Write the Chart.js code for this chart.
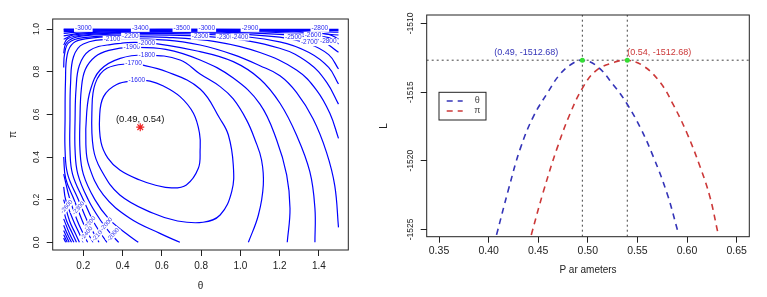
<!DOCTYPE html>
<html>
<head>
<meta charset="utf-8">
<script src="https://cdn.jsdelivr.net/npm/chart.js@4.4.1/dist/chart.umd.min.js"></script>
<style>
body { margin: 0; background: #fff; }
#left { position: absolute; left: 0; top: 0; width: 378px; height: 297px; }
#right { position: absolute; left: 378px; top: 0; width: 389px; height: 297px; }
</style>
</head>
<body>
<div id="left"><canvas id="contour"></canvas></div>
<div id="right"><canvas id="profile"></canvas></div>
<script>
// ---------- left panel: contours of the log-likelihood over (theta, pi) ----------
const thetaTicks = [0.2, 0.4, 0.6, 0.8, 1.0, 1.2, 1.4];
const piTicks = [0.0, 0.2, 0.4, 0.6, 0.8, 1.0];
const mle = [0.49, 0.54];

// contour lines, [theta, pi] pairs
const c1600 = [[0.473,0.759],[0.54,0.756],[0.608,0.733],[0.693,0.683],[0.761,0.605],[0.792,0.511],[0.795,0.433],[0.786,0.347],[0.725,0.269],[0.65,0.255],[0.56,0.27],[0.488,0.292],[0.386,0.339],[0.325,0.395],[0.29,0.47],[0.283,0.589],[0.303,0.683],[0.37,0.74],[0.473,0.759]];
const c1700 = [[0.456,0.841],[0.625,0.8],[0.795,0.719],[0.897,0.578],[0.939,0.503],[0.964,0.3625],[0.956,0.2375],[0.897,0.128],[0.81,0.094],[0.68,0.1],[0.556,0.136],[0.386,0.222],[0.29,0.34],[0.251,0.44],[0.244,0.62],[0.261,0.745],[0.32,0.816],[0.456,0.841]];
const c1800 = [[0.692,0],[0.59,0.042],[0.437,0.1125],[0.302,0.222],[0.228,0.36],[0.213,0.46],[0.217,0.605],[0.236,0.714],[0.286,0.808],[0.388,0.8625],[0.524,0.878],[0.693,0.855],[0.795,0.789],[0.897,0.73],[0.964,0.672],[1.032,0.573],[1.075,0.48],[1.108,0.386],[1.117,0.269],[1.092,0.128],[1.041,0]];
const c1900 = [[0.48,0],[0.42,0.04],[0.33,0.11],[0.259,0.2],[0.2,0.32],[0.183,0.433],[0.183,0.578],[0.19,0.72],[0.21,0.81],[0.26,0.87],[0.33,0.9],[0.447,0.914],[0.62,0.905],[0.795,0.855],[0.964,0.77],[1.1,0.648],[1.185,0.48],[1.236,0.316],[1.253,0.159],[1.239,0]];
const c2000 = [[0.38,0],[0.34,0.04],[0.29,0.1],[0.225,0.2],[0.172,0.32],[0.158,0.433],[0.158,0.578],[0.163,0.72],[0.18,0.83],[0.23,0.898],[0.33,0.926],[0.524,0.935],[0.795,0.894],[0.964,0.847],[1.1,0.766],[1.202,0.652],[1.286,0.503],[1.354,0.331],[1.38,0.159],[1.38,0]];
const c2100 = [[0.32,0],[0.29,0.04],[0.25,0.1],[0.2,0.2],[0.145,0.32],[0.132,0.433],[0.132,0.578],[0.135,0.745],[0.15,0.87],[0.2,0.93],[0.346,0.952],[0.625,0.948],[0.795,0.925],[0.964,0.88],[1.1,0.828],[1.202,0.781],[1.286,0.703],[1.371,0.578],[1.439,0.422],[1.481,0.266],[1.5,0.07]];
const c2200 = [[0.28,0],[0.255,0.04],[0.22,0.1],[0.175,0.2],[0.12,0.32],[0.107,0.433],[0.107,0.578],[0.109,0.75],[0.118,0.88],[0.15,0.935],[0.219,0.955],[0.371,0.964],[0.625,0.961],[0.88,0.94],[1.1,0.89],[1.286,0.808],[1.388,0.714],[1.456,0.605],[1.5,0.4875]];
// upper band (pi near 1)
const t2300 = [[0.1,0.82],[0.104,0.88],[0.125,0.935],[0.2,0.96],[0.5,0.973],[0.9,0.96],[1.2,0.91],[1.35,0.84],[1.44,0.75],[1.5,0.648]];
const t2400 = [[0.1,0.886],[0.11,0.93],[0.15,0.958],[0.25,0.972],[0.5,0.98],[0.9,0.972],[1.2,0.94],[1.35,0.89],[1.45,0.82],[1.5,0.742]];
const t2500 = [[0.1,0.925],[0.12,0.955],[0.2,0.972],[0.5,0.985],[0.9,0.98],[1.2,0.962],[1.35,0.93],[1.45,0.88],[1.5,0.8125]];
const t2600 = [[0.1,0.952],[0.15,0.972],[0.3,0.982],[0.6,0.988],[0.9,0.985],[1.2,0.975],[1.4,0.95],[1.5,0.891]];
const t2700 = [[0.1,0.968],[0.2,0.982],[0.6,0.991],[1.0,0.988],[1.3,0.978],[1.45,0.96],[1.5,0.93]];
const t2800 = [[0.1,0.98],[0.2,0.988],[0.6,0.994],[1.0,0.992],[1.3,0.986],[1.45,0.975],[1.5,0.953]];
const t2900 = [[0.1,0.988],[0.6,0.996],[1.2,0.994],[1.5,0.972]];
const t3000 = [[0.1,0.993],[0.6,0.998],[1.2,0.997],[1.5,0.985]];
const t3100 = [[0.1,0.997],[1.5,0.993]];
const t3200 = [[0.1,0.9995],[1.5,0.998]];
// lower-left corner
const b2300 = [[0.1,0.4],[0.11,0.3],[0.153,0.2],[0.195,0.1],[0.225,0.04],[0.25,0]];
const b2400 = [[0.1,0.32],[0.132,0.2],[0.17,0.1],[0.2,0.04],[0.222,0]];
const b2500 = [[0.1,0.26],[0.11,0.2],[0.15,0.1],[0.18,0.04],[0.2,0]];
const b2600 = [[0.1,0.2],[0.13,0.1],[0.16,0.04],[0.18,0]];
const b2700 = [[0.1,0.15],[0.115,0.1],[0.145,0.04],[0.165,0]];
const b2800 = [[0.1,0.11],[0.13,0.04],[0.152,0]];
const b2900 = [[0.1,0.08],[0.118,0.04],[0.14,0]];
const b3000 = [[0.1,0.055],[0.128,0]];
const b3100 = [[0.1,0.035],[0.118,0]];
const b3200 = [[0.1,0.02],[0.11,0]];

const contours = [c1600, c1700, c1800, c1900, c2000, c2100, c2200,
  t2300, t2400, t2500, t2600, t2700, t2800, t2900, t3000, t3100, t3200,
  b2300, b2400, b2500, b2600, b2700, b2800, b2900, b3000, b3100, b3200];

const contourLabels = [
  ['-1600', 0.473, 0.759], ['-1700', 0.456, 0.841], ['-1800', 0.524, 0.878],
  ['-1900', 0.447, 0.914], ['-2000', 0.524, 0.935], ['-2100', 0.346, 0.952],
  ['-2200', 0.44, 0.966], ['-2300', 0.795, 0.966], ['-2300', 0.922, 0.962],
  ['-2400', 0.998, 0.962], ['-2500', 1.27, 0.963], ['-2600', 1.37, 0.97],
  ['-2700', 1.351, 0.936], ['-2800', 1.448, 0.941],
  ['-3000', 0.2, 1.003], ['-3400', 0.49, 1.003], ['-3500', 0.702, 1.003],
  ['-3000', 0.829, 1.003], ['-2900', 1.049, 1.003], ['-2800', 1.405, 1.003]
];
const cornerLabels = [
  ['-2300', 0.175, 0.16], ['-2200', 0.232, 0.09], ['-2400', 0.217, 0.042],
  ['-2100', 0.276, 0.036], ['-2000', 0.318, 0.085], ['-2000', 0.352, 0.036],
  ['-2600', 0.115, 0.167]
];

// ---------- right panel: profile log-likelihoods ----------
const parTicks = [0.35, 0.40, 0.45, 0.50, 0.55, 0.60, 0.65];
const lTicks = [-1525, -1520, -1515, -1510];
const thetaX = [0.408, 0.420, 0.432, 0.445, 0.459, 0.472, 0.485, 0.4945, 0.509, 0.526, 0.539, 0.553, 0.566, 0.580, 0.591];
const thetaL = [-1525.4, -1522.1, -1519.1, -1516.8, -1515.1, -1513.7, -1512.9, -1512.68, -1513.1, -1514.5, -1515.8, -1517.6, -1519.7, -1522.4, -1525.2];
const piX = [0.443, 0.455, 0.469, 0.482, 0.4955, 0.509, 0.526, 0.5398, 0.556, 0.573, 0.586, 0.600, 0.613, 0.623, 0.631];
const piL = [-1525.4, -1522.3, -1519.1, -1516.6, -1514.6, -1513.4, -1512.85, -1512.68, -1513.1, -1514.3, -1515.9, -1518.0, -1520.4, -1522.6, -1525.2];
const thetaHat = 0.4945, piHat = 0.5398, lHat = -1512.68;

const xLim = [0.3376, 0.6628];
const yLim = [-1525.53, -1509.39];

Chart.defaults.font.family = "'Liberation Sans', Arial, sans-serif";
Chart.defaults.color = '#222';

// R-like frame, vertical y tick labels, text notes and an inset legend
const rLook = {
  id: 'rLook',
  afterDraw(chart, args, opts) {
    const {ctx, chartArea: a, scales} = chart;
    ctx.save();
    ctx.strokeStyle = '#222';
    ctx.lineWidth = 1;
    ctx.strokeRect(a.left, a.top, a.right - a.left, a.bottom - a.top);

    ctx.fillStyle = '#222';
    ctx.font = opts.yFont;
    ctx.textAlign = 'center';
    ctx.textBaseline = 'middle';
    scales.y.ticks.forEach(t => {
      ctx.save();
      ctx.translate(a.left - 16, scales.y.getPixelForValue(t.value));
      ctx.rotate(-Math.PI / 2);
      ctx.fillText(t.label, 0, 0);
      ctx.restore();
    });

    (opts.notes || []).forEach(n => {
      ctx.save();
      ctx.translate(scales.x.getPixelForValue(n.x) + (n.dx || 0), scales.y.getPixelForValue(n.y) + (n.dy || 0));
      if (n.rot) ctx.rotate(n.rot * Math.PI / 180);
      ctx.font = n.font;
      ctx.textAlign = n.align || 'center';
      ctx.textBaseline = 'middle';
      if (n.bg) {
        const w = ctx.measureText(n.text).width;
        const x0 = n.align === 'right' ? -w : n.align === 'left' ? 0 : -w / 2;
        ctx.fillStyle = '#fff';
        ctx.fillRect(x0 - 1, -3.5, w + 2, 7);
      }
      ctx.fillStyle = n.color;
      ctx.fillText(n.text, 0, 0);
      ctx.restore();
    });

    if (opts.legend) {
      const bx = a.left + 12.3, by = a.top + 77.3;
      ctx.fillStyle = '#fff';
      ctx.fillRect(bx, by, 47, 27.7);
      ctx.strokeStyle = '#222';
      ctx.lineWidth = 1;
      ctx.strokeRect(bx, by, 47, 27.7);
      ctx.font = '9px "Liberation Sans", Arial';
      ctx.textAlign = 'center';
      ctx.textBaseline = 'middle';
      chart.data.datasets.filter(d => d.label).forEach((d, i) => {
        const y = by + 8.7 + i * 10;
        ctx.strokeStyle = d.borderColor;
        ctx.lineWidth = d.borderWidth;
        ctx.setLineDash(d.borderDash);
        ctx.beginPath();
        ctx.moveTo(bx + 7.7, y);
        ctx.lineTo(bx + 23.7, y);
        ctx.stroke();
        ctx.setLineDash([]);
        ctx.fillStyle = '#444';
        ctx.fillText(d.label, bx + 38.3, y);
      });
    }
    ctx.restore();
  }
};

function axisCommon(ticks, fmt, size, pad, color) {
  return {
    type: 'linear',
    afterBuildTicks: s => { s.ticks = ticks.map(v => ({value: v})); },
    ticks: { callback: fmt, font: {size: size}, padding: pad, autoSkip: false, maxRotation: 0, color: color },
    grid: { drawOnChartArea: false, tickLength: 6, color: '#222' },
    border: { display: false }
  };
}

const contourNotes = contourLabels.map(([text, x, y]) => ({
  text, x, y, bg: true, color: '#2a2af0', font: '6.5px "Liberation Sans", Arial'
})).concat(cornerLabels.map(([text, x, y]) => ({
  text, x, y, bg: true, rot: -50, color: '#2a2af0', font: '6px "Liberation Sans", Arial'
}))).concat([{
  text: '(0.49, 0.54)', x: mle[0], y: mle[1], dy: -8, color: '#111', font: '9.5px "Liberation Sans", Arial'
}]);

new Chart(document.getElementById('contour'), {
  type: 'scatter',
  data: {
    datasets: [{
      data: [{x: mle[0], y: mle[1]}],
      pointStyle: 'star', pointRadius: 4, borderColor: '#ee2222', borderWidth: 1.2
    }].concat(contours.map(c => ({
      data: c.map(([x, y]) => ({x, y})),
      showLine: true, borderColor: '#0000ff', borderWidth: 1.2,
      pointRadius: 0, tension: 0.4, fill: false
    })))
  },
  options: {
    responsive: true,
    maintainAspectRatio: false,
    animation: false,
    devicePixelRatio: 1,
    layout: { padding: { left: 0, right: 29.7, top: 19, bottom: 0 } },
    plugins: {
      legend: { display: false },
      tooltip: { enabled: false },
      rLook: { yFont: '8.5px "Liberation Sans", Arial', notes: contourNotes }
    },
    scales: {
      x: Object.assign(axisCommon(thetaTicks, v => v.toFixed(1), 10, 4.5, '#222'), {
        min: 0.044, max: 1.55,
        afterFit: s => { s.height = 47; },
        title: { display: true, text: 'θ', font: {size: 10}, padding: {top: 0, bottom: 5}, color: '#222' }
      }),
      y: Object.assign(axisCommon(piTicks, v => v.toFixed(1), 9, 3, 'rgba(0,0,0,0)'), {
        min: -0.036, max: 1.047,
        afterFit: s => { s.width = 52.7; },
        title: { display: true, text: 'π', font: {size: 10}, padding: {top: 7, bottom: 0}, color: '#222' }
      })
    }
  },
  plugins: [rLook]
});

new Chart(document.getElementById('profile'), {
  type: 'scatter',
  data: {
    datasets: [
      {
        data: [{x: thetaHat, y: lHat}, {x: piHat, y: lHat}],
        pointRadius: 2.5, pointBackgroundColor: '#33dd33', pointBorderWidth: 0
      },
      {
        label: 'θ',
        data: thetaX.map((x, i) => ({x, y: thetaL[i]})),
        showLine: true, borderColor: '#3434b8', borderWidth: 1.6, borderDash: [6, 5],
        pointRadius: 0, tension: 0.4
      },
      {
        label: 'π',
        data: piX.map((x, i) => ({x, y: piL[i]})),
        showLine: true, borderColor: '#cc3838', borderWidth: 1.6, borderDash: [6, 5],
        pointRadius: 0, tension: 0.4
      },
      {
        data: [{x: xLim[0], y: lHat}, {x: xLim[1], y: lHat}],
        showLine: true, borderColor: '#444', borderWidth: 1, borderDash: [2, 3], pointRadius: 0
      },
      {
        data: [{x: thetaHat, y: yLim[0]}, {x: thetaHat, y: yLim[1]}],
        showLine: true, borderColor: '#444', borderWidth: 1, borderDash: [2, 3], pointRadius: 0
      },
      {
        data: [{x: piHat, y: yLim[0]}, {x: piHat, y: yLim[1]}],
        showLine: true, borderColor: '#444', borderWidth: 1, borderDash: [2, 3], pointRadius: 0
      }
    ]
  },
  options: {
    responsive: true,
    maintainAspectRatio: false,
    animation: false,
    devicePixelRatio: 1,
    layout: { padding: { left: 0, right: 17.7, top: 15, bottom: 0 } },
    plugins: {
      legend: { display: false },
      tooltip: { enabled: false },
      rLook: {
        yFont: '8.5px "Liberation Sans", Arial',
        legend: true,
        notes: [
          { text: '(0.49, -1512.68)', x: thetaHat, y: lHat, dx: -24, dy: -8, align: 'right', color: '#3434b8', font: '9px "Liberation Sans", Arial' },
          { text: '(0.54, -1512.68)', x: piHat, y: lHat, dx: 0, dy: -8, align: 'left', color: '#cc3838', font: '9px "Liberation Sans", Arial' }
        ]
      }
    },
    scales: {
      x: Object.assign(axisCommon(parTicks, v => v.toFixed(2), 10.5, 1.7, '#222'), {
        min: xLim[0], max: xLim[1],
        afterFit: s => { s.height = 60.3; },
        title: { display: true, text: 'P ar ameters', font: {size: 10}, padding: {top: 0, bottom: 21}, color: '#222' }
      }),
      y: Object.assign(axisCommon(lTicks, v => String(v), 9, 3, 'rgba(0,0,0,0)'), {
        min: yLim[0], max: yLim[1],
        afterFit: s => { s.width = 48.7; },
        title: { display: true, text: 'L', font: {size: 10}, padding: {top: 0, bottom: 0}, color: '#222' }
      })
    }
  },
  plugins: [rLook]
});
</script>
</body>
</html>
